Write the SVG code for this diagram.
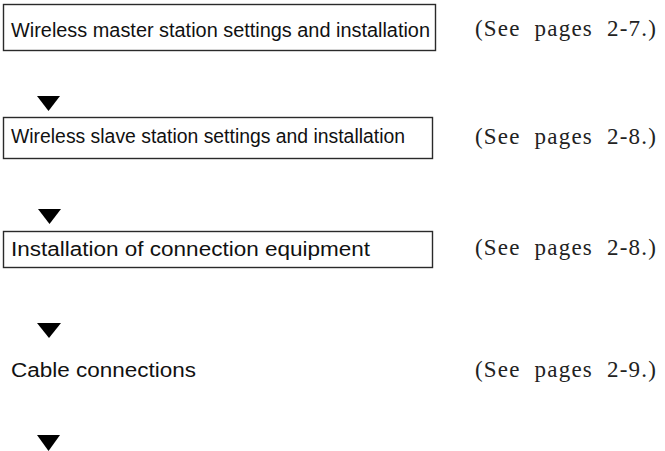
<svg xmlns="http://www.w3.org/2000/svg" width="665" height="451" viewBox="0 0 665 451">
  <style>
    .box { fill: #fff; stroke: #2a2a2a; stroke-width: 1.4; }
    .step { font-family: "Liberation Sans", Arial, sans-serif; font-size: 20px; fill: #111; }
    .ref { font-family: "Liberation Serif", "Times New Roman", serif; font-size: 23px; fill: #222; letter-spacing: 1.2px; word-spacing: 7px; }
    .arrow { fill: #000; }
  </style>
  <rect width="665" height="451" fill="#fff"/>

  <g id="step-master">
    <rect class="box" x="3.5" y="4.5" width="432" height="46"/>
    <text class="step" x="11" y="37" textLength="419" lengthAdjust="spacingAndGlyphs">Wireless master station settings and installation</text>
    <text class="ref" x="475" y="36">(See pages 2-7.)</text>
  </g>

  <g id="step-slave">
    <rect class="box" x="3.5" y="117.5" width="429" height="41"/>
    <text class="step" x="11" y="143" textLength="394" lengthAdjust="spacingAndGlyphs">Wireless slave station settings and installation</text>
    <text class="ref" x="475" y="144">(See pages 2-8.)</text>
  </g>

  <g id="step-equipment">
    <rect class="box" x="3.5" y="231.5" width="429" height="36"/>
    <text class="step" x="11" y="256" textLength="359" lengthAdjust="spacingAndGlyphs">Installation of connection equipment</text>
    <text class="ref" x="475" y="255">(See pages 2-8.)</text>
  </g>

  <g id="step-cables">
    <text class="step" x="11" y="377" textLength="185" lengthAdjust="spacingAndGlyphs">Cable connections</text>
    <text class="ref" x="475" y="377">(See pages 2-9.)</text>
  </g>

  <g id="connectors">
    <polygon class="arrow" points="37,96 60,96 48.5,111"/>
    <polygon class="arrow" points="38,209 61,209 49.5,224"/>
    <polygon class="arrow" points="37,323 61,323 49,338"/>
    <polygon class="arrow" points="37,435 60,435 48.5,451"/>
  </g>
</svg>
